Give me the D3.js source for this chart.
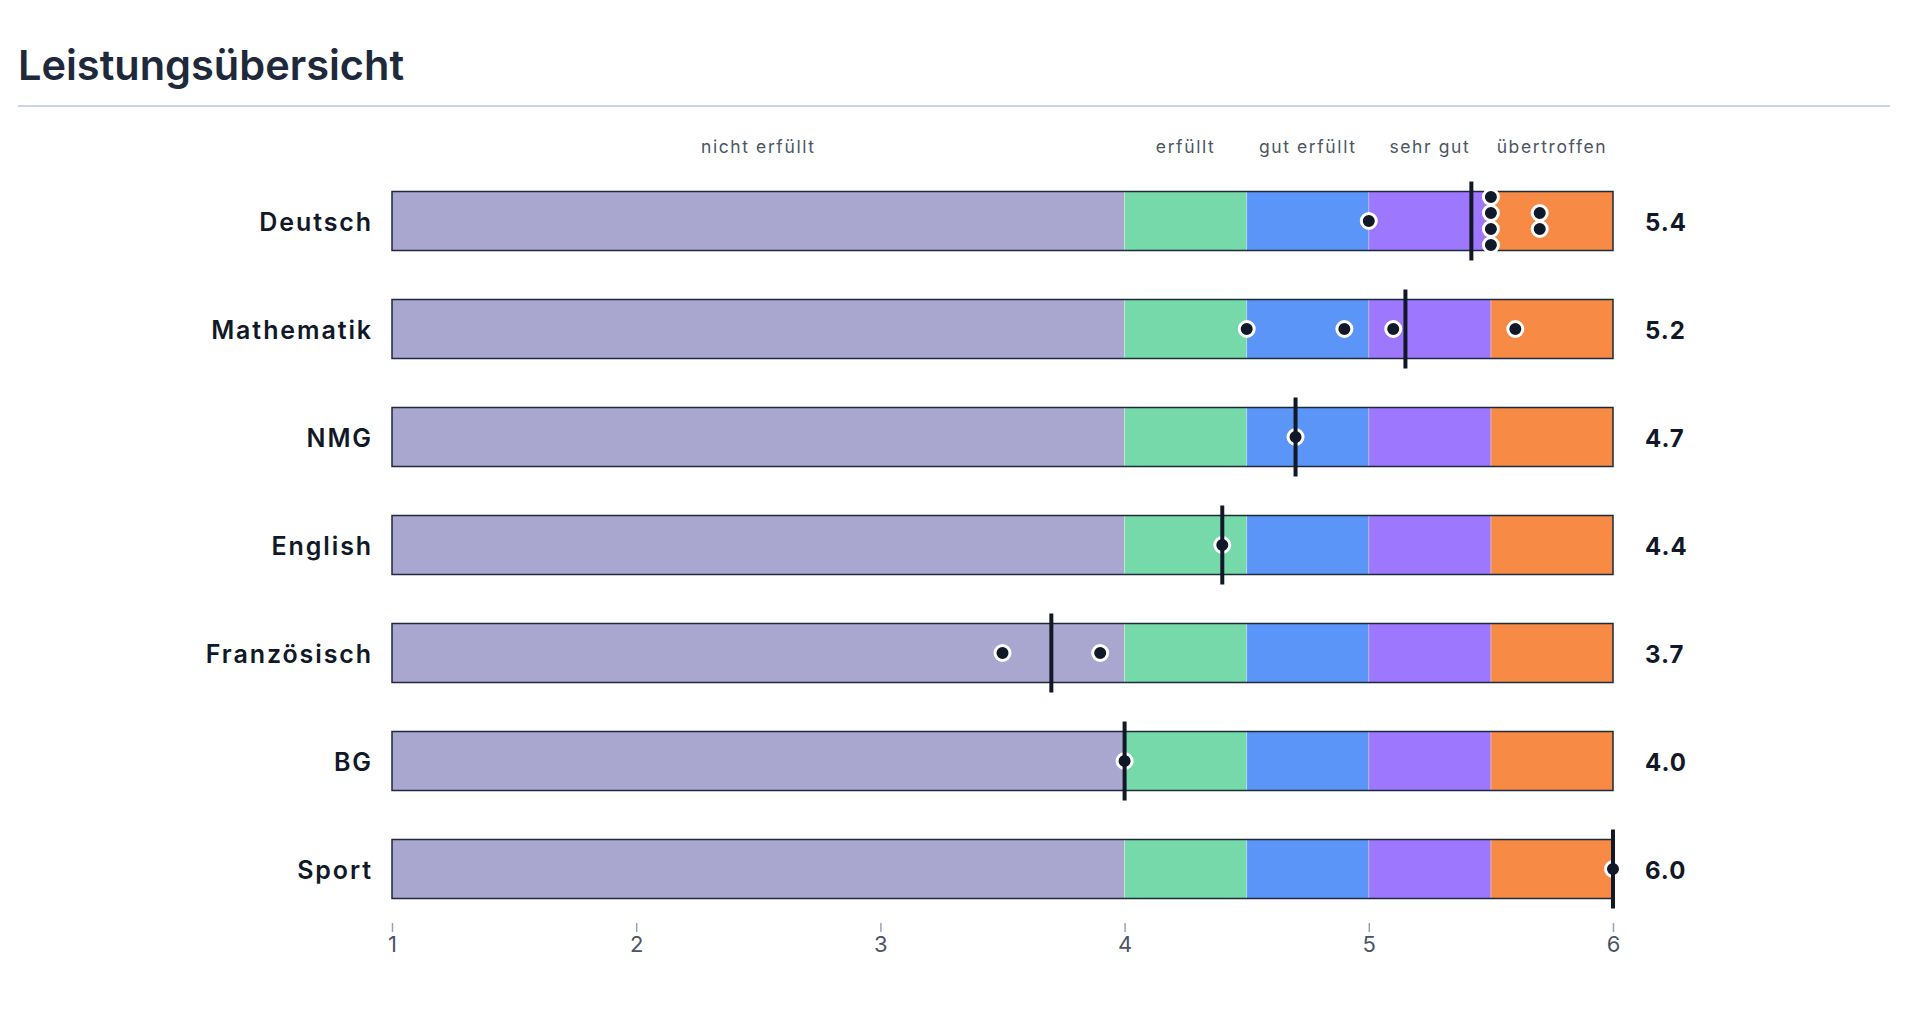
<!DOCTYPE html>
<html>
<head>
<meta charset="utf-8">
<script src="https://cdn.jsdelivr.net/npm/d3@7"></script>
<style>
  body { margin: 0; background: #fff; font-family: Inter, "Noto Sans", sans-serif; }
</style>
</head>
<body>
<script>
//chart data
var subjects = ["Deutsch", "Mathematik", "NMG", "English", "Französisch", "BG", "Sport"];
var averages = [5.42, 5.15, 4.7, 4.4, 3.7, 4.0, 6.0];
var averageLabels = ["5.4", "5.2", "4.7", "4.4", "3.7", "4.0", "6.0"];
var grades = [
    [5.0, 5.5, 5.5, 5.5, 5.5, 5.7, 5.7],
    [4.5, 4.9, 5.1, 5.6],
    [4.7],
    [4.4],
    [3.5, 3.9],
    [4.0],
    [6.0]
];
var bandNames = ["nicht erfüllt", "erfüllt", "gut erfüllt", "sehr gut", "übertroffen"];
var bandEdges = [1, 4, 4.5, 5, 5.5, 6];
var bandColors = ["#a9a6cf", "#75d9a9", "#5b95f7", "#9d77fd", "#f78a45"];
var tickValues = [1, 2, 3, 4, 5, 6];

window.onload = drawChart();

function drawChart() {
    var width = 1916,
        height = 1016;

    var svg = d3.select("body")
        .append("svg")
        .attr("width", width)
        .attr("height", height);

    //title and rule
    svg.append("text")
        .attr("x", 18)
        .attr("y", 80)
        .attr("font-size", 41.5)
        .attr("font-weight", 600)
        .attr("fill", "#1e293b")
        .text("Leistungsübersicht");

    svg.append("line")
        .attr("x1", 18).attr("x2", 1890)
        .attr("y1", 106).attr("y2", 106)
        .attr("stroke", "#cbd5e1")
        .attr("stroke-width", 2);

    var x = d3.scaleLinear().domain([1, 6]).range([392, 1613]);
    var y = d3.scalePoint().domain(subjects).range([167, 923]).padding(0.5);
    var barH = 59;

    //band labels on top
    svg.selectAll(".band-label")
        .data(bandNames)
        .enter()
        .append("text")
        .attr("class", "band-label")
        .attr("x", function (d, i) { return (x(bandEdges[i]) + x(bandEdges[i + 1])) / 2; })
        .attr("y", 153)
        .attr("text-anchor", "middle")
        .attr("font-size", 17.5)
        .attr("letter-spacing", 1.6)
        .attr("fill", "#4b5563")
        .text(function (d) { return d; });

    var rows = svg.selectAll(".row")
        .data(subjects)
        .enter()
        .append("g")
        .attr("class", "row")
        .attr("transform", function (d) { return "translate(0," + y(d) + ")"; });

    //colored segments
    rows.selectAll(".seg")
        .data(bandColors)
        .enter()
        .append("rect")
        .attr("class", "seg")
        .attr("x", function (d, i) { return x(bandEdges[i]); })
        .attr("width", function (d, i) { return x(bandEdges[i + 1]) - x(bandEdges[i]); })
        .attr("y", -barH / 2)
        .attr("height", barH)
        .attr("fill", function (d) { return d; });

    //faint separators
    rows.selectAll(".sep")
        .data(bandEdges.slice(1, -1))
        .enter()
        .append("line")
        .attr("x1", function (d) { return x(d); })
        .attr("x2", function (d) { return x(d); })
        .attr("y1", -barH / 2)
        .attr("y2", barH / 2)
        .attr("stroke", "#fff")
        .attr("stroke-opacity", 0.35)
        .attr("stroke-width", 1);

    //outline
    rows.append("rect")
        .attr("x", x(1))
        .attr("width", x(6) - x(1))
        .attr("y", -barH / 2)
        .attr("height", barH)
        .attr("fill", "none")
        .attr("stroke", "#1e293b")
        .attr("stroke-width", 1.5);

    //subject names
    rows.append("text")
        .attr("x", 373)
        .attr("y", 1)
        .attr("dy", "0.36em")
        .attr("text-anchor", "end")
        .attr("font-size", 25)
        .attr("font-weight", 600)
        .attr("letter-spacing", 1.9)
        .attr("fill", "#111827")
        .text(function (d) { return d; });

    //average values
    rows.append("text")
        .attr("x", 1645)
        .attr("y", 1)
        .attr("dy", "0.36em")
        .attr("font-size", 24)
        .attr("font-weight", 700)
        .attr("letter-spacing", 1)
        .attr("fill", "#111827")
        .text(function (d, i) { return averageLabels[i]; });

    //grade dots, stacked when equal
    rows.each(function (s, i) {
        var counts = d3.rollup(grades[i], function (v) { return v.length; }, function (v) { return v; });
        var seen = new Map();
        var pts = grades[i].map(function (g) {
            var k = seen.get(g) || 0;
            seen.set(g, k + 1);
            return { v: g, off: (k - (counts.get(g) - 1) / 2) * 16 };
        });
        d3.select(this).selectAll(".dot")
            .data(pts)
            .enter()
            .append("circle")
            .attr("class", "dot")
            .attr("cx", function (d) { return x(d.v); })
            .attr("cy", function (d) { return d.off; })
            .attr("r", 7.5)
            .attr("fill", "#111827")
            .attr("stroke", "#fff")
            .attr("stroke-width", 3);
    });

    //average marker
    rows.append("line")
        .attr("x1", function (d, i) { return x(averages[i]); })
        .attr("x2", function (d, i) { return x(averages[i]); })
        .attr("y1", -barH / 2 - 10)
        .attr("y2", barH / 2 + 10)
        .attr("stroke", "#111827")
        .attr("stroke-width", 4);

    //x axis
    var axis = svg.append("g")
        .attr("transform", "translate(0,923)")
        .call(d3.axisBottom(x).tickValues(tickValues).tickFormat(d3.format("d")).tickSize(9).tickPadding(4));
    axis.select(".domain").remove();
    axis.selectAll(".tick line").attr("stroke", "#94a3b8").attr("stroke-width", 1.5);
    axis.selectAll(".tick text")
        .attr("font-size", 22)
        .attr("font-family", "Inter, sans-serif")
        .attr("fill", "#4b5563");
}
</script>
</body>
</html>
